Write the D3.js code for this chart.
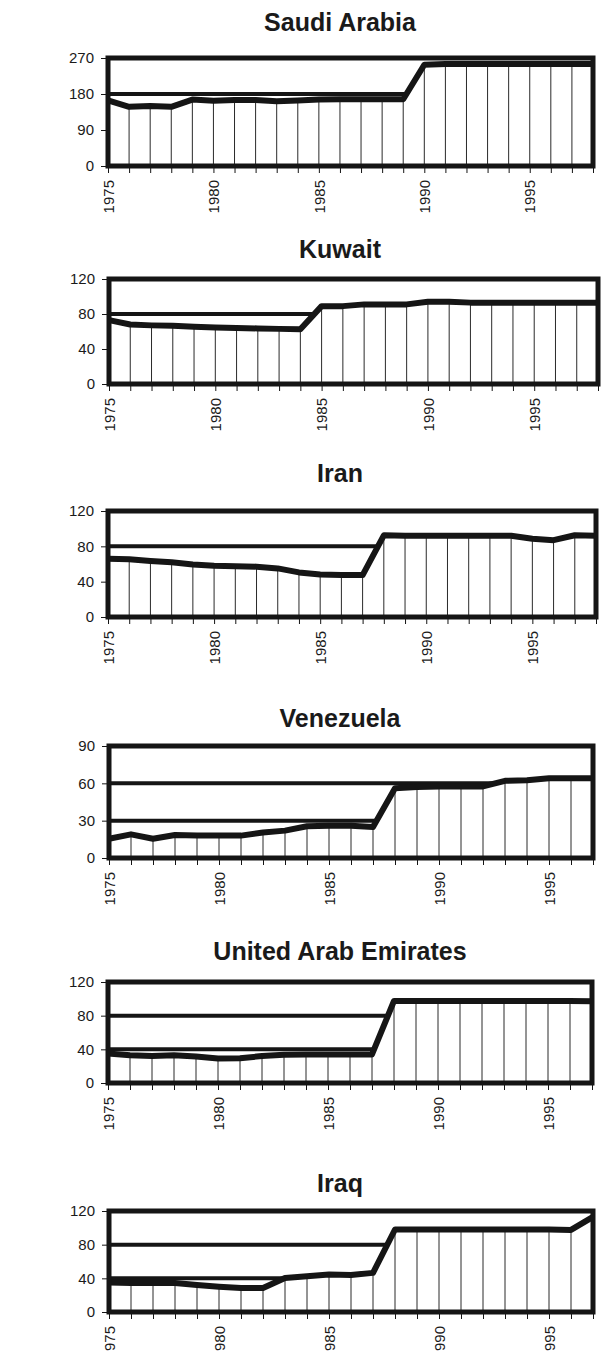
<!DOCTYPE html>
<html>
<head>
<meta charset="utf-8">
<script src="https://cdn.jsdelivr.net/npm/d3@7"></script>
<style>
  body { margin: 0; background: #fff; }
  svg { display: block; }
  text { font-family: "Liberation Sans", Arial, Helvetica, sans-serif; fill: #1a1a1a; }
</style>
</head>
<body>
<svg id="chart" width="605" height="1351"></svg>
<script>
// Proven crude oil reserves, billion barrels
const countries = ["Saudi Arabia", "Kuwait", "Iran", "Venezuela", "United Arab Emirates", "Iraq"];

const yearsTo1998 = [1975, 1976, 1977, 1978, 1979, 1980, 1981, 1982, 1983, 1984, 1985, 1986,
                     1987, 1988, 1989, 1990, 1991, 1992, 1993, 1994, 1995, 1996, 1997, 1998];
const yearsTo1997 = [1975, 1976, 1977, 1978, 1979, 1980, 1981, 1982, 1983, 1984, 1985, 1986,
                     1987, 1988, 1989, 1990, 1991, 1992, 1993, 1994, 1995, 1996, 1997];
const labelledYears = [1975, 1980, 1985, 1990, 1995];

const saudiValues     = [164, 148, 150, 148, 166, 163, 165, 165, 162, 164, 166, 167,
                         167, 167, 167, 253, 255, 255, 255, 255, 255, 255, 255, 255];
const kuwaitValues    = [73, 68, 67, 66.5, 65.5, 64.5, 64, 63.5, 63, 62.5, 89, 89,
                         91, 91, 91, 94, 94, 93, 93, 93, 93, 93, 93, 93];
const iranValues      = [66, 65.5, 63.5, 62, 59.5, 58, 57.5, 57, 55, 50.5, 48, 47.5,
                         47.5, 92.5, 92, 92, 92, 92, 92, 92, 88.5, 87, 92.5, 92];
const venezuelaValues = [15.5, 19, 15.5, 18.5, 18, 18, 18, 20.5, 22, 25.5, 26, 26,
                         25, 56, 57, 57.5, 57.5, 57.5, 62, 62.5, 64, 64, 64];
const uaeValues       = [35, 33, 32, 33, 31.5, 29, 29.5, 32, 33.5, 34, 34, 34,
                         34, 97.5, 97.5, 97.5, 97.5, 97.5, 97.5, 97.5, 97.5, 97.5, 97];
const iraqValues      = [35, 34.5, 34.5, 34.5, 32, 30, 28.5, 28.5, 40.5, 42.5, 44.5, 44,
                         46.5, 98, 98, 98, 98, 98, 98, 98, 98, 97.5, 113];

const saudiTicks     = [0, 90, 180, 270];
const kuwaitTicks    = [0, 40, 80, 120];
const iranTicks      = [0, 40, 80, 120];
const venezuelaTicks = [0, 30, 60, 90];
const uaeTicks       = [0, 40, 80, 120];
const iraqTicks      = [0, 40, 80, 120];

// Page layout of the six stacked panels
const panels = [
  { name: countries[0], years: yearsTo1998, values: saudiValues,     ticks: saudiTicks,     titleY: 31,   top: 58,   bottom: 166,  left: 108, right: 593 },
  { name: countries[1], years: yearsTo1998, values: kuwaitValues,    ticks: kuwaitTicks,    titleY: 258,  top: 279,  bottom: 384,  left: 109, right: 598 },
  { name: countries[2], years: yearsTo1998, values: iranValues,      ticks: iranTicks,      titleY: 482,  top: 511,  bottom: 617,  left: 108, right: 596 },
  { name: countries[3], years: yearsTo1997, values: venezuelaValues, ticks: venezuelaTicks, titleY: 727,  top: 746,  bottom: 858,  left: 109, right: 593 },
  { name: countries[4], years: yearsTo1997, values: uaeValues,       ticks: uaeTicks,       titleY: 960,  top: 982,  bottom: 1083, left: 108, right: 592 },
  { name: countries[5], years: yearsTo1997, values: iraqValues,      ticks: iraqTicks,      titleY: 1192, top: 1211, bottom: 1312, left: 109, right: 593 }
];

const svg = d3.select("#chart");
const ink = "#151515";

panels.forEach(p => {
  const rows = p.years.map((yr, i) => ({ year: yr, value: p.values[i] }));
  const x = d3.scaleLinear().domain([p.years[0], p.years[p.years.length - 1]]).range([p.left, p.right]);
  const y = d3.scaleLinear().domain([0, d3.max(p.ticks)]).range([p.bottom, p.top]);
  const g = svg.append("g");

  // title
  g.append("text")
    .attr("x", 340).attr("y", p.titleY)
    .attr("text-anchor", "middle")
    .style("font-size", "25px").style("font-weight", "bold")
    .text(p.name);

  // heavy horizontal gridlines (hidden below the series by the white area)
  g.selectAll("line.grid")
    .data(p.ticks.slice(1, -1))
    .join("line")
    .attr("class", "grid")
    .attr("x1", p.left).attr("x2", p.right)
    .attr("y1", d => y(d)).attr("y2", d => y(d))
    .attr("stroke", ink).attr("stroke-width", 4);

  // white area under the series
  g.append("path")
    .datum(rows)
    .attr("d", d3.area().x(d => x(d.year)).y0(y(0)).y1(d => y(d.value)))
    .attr("fill", "#fff");

  // drop lines from each point to the baseline
  g.selectAll("line.drop")
    .data(rows)
    .join("line")
    .attr("class", "drop")
    .attr("x1", d => x(d.year)).attr("x2", d => x(d.year))
    .attr("y1", d => y(d.value)).attr("y2", y(0))
    .attr("stroke", "#2a2a2a").attr("stroke-width", 1);

  // series line
  g.append("path")
    .datum(rows)
    .attr("d", d3.line().x(d => x(d.year)).y(d => y(d.value)))
    .attr("fill", "none")
    .attr("stroke", ink).attr("stroke-width", 6)
    .attr("stroke-linejoin", "round");

  // plot frame
  g.append("rect")
    .attr("x", p.left).attr("y", p.top)
    .attr("width", p.right - p.left).attr("height", p.bottom - p.top)
    .attr("fill", "none")
    .attr("stroke", ink).attr("stroke-width", 5);

  // y axis
  const ya = g.append("g")
    .attr("transform", `translate(${p.left - 2},0)`)
    .call(d3.axisLeft(y).tickValues(p.ticks).tickSize(5).tickPadding(7));
  ya.select(".domain").remove();
  ya.selectAll("line").attr("stroke", ink);
  ya.selectAll("text").style("font-size", "15px").attr("fill", "#1a1a1a");

  // x axis: a tick every year, labels every five years
  const xa = g.append("g")
    .attr("transform", `translate(0,${p.bottom + 2})`)
    .call(d3.axisBottom(x).tickValues(p.years).tickSize(5)
      .tickFormat(d => labelledYears.includes(d) ? String(d) : ""));
  xa.select(".domain").remove();
  xa.selectAll("line").attr("stroke", ink);
  xa.selectAll("text")
    .style("font-size", "15px").attr("fill", "#1a1a1a")
    .attr("transform", "rotate(-90)")
    .attr("text-anchor", "end")
    .attr("x", -12).attr("y", 0).attr("dy", "0.35em");
});
</script>
</body>
</html>
